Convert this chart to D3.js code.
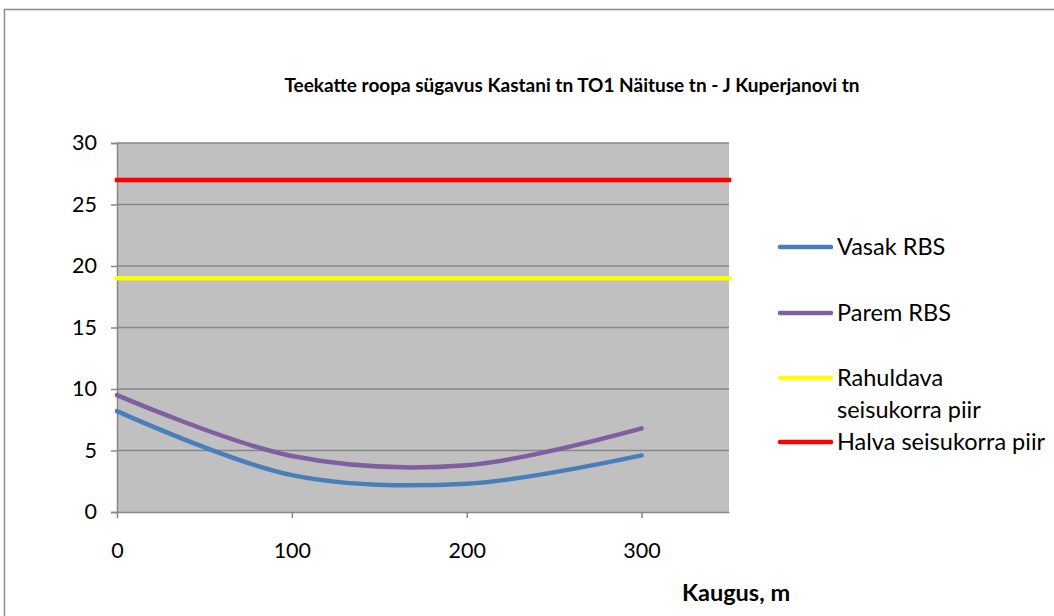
<!DOCTYPE html>
<html><head><meta charset="utf-8">
<script src="https://cdn.jsdelivr.net/npm/d3@7"></script>
<style>body{margin:0;background:#fff;}svg{display:block;font-family:Lato,'Open Sans',sans-serif;}</style>
</head><body>
<svg id="c" width="1054" height="616"></svg>
<script>
const distances = [0, 100, 200, 300];
const vasakRBS = [8.2, 3.0, 2.3, 4.6];
const paremRBS = [9.5, 4.55, 3.8, 6.8];
const limitX = [0, 350];
const rahuldava = [19, 19];
const halva = [27, 27];
const yTicks = [0, 5, 10, 15, 20, 25, 30];
const xTicks = [0, 100, 200, 300];
const seriesNames = ["Vasak RBS", "Parem RBS", "Rahuldava seisukorra piir", "Halva seisukorra piir"];
const title = "Teekatte roopa sügavus Kastani tn TO1 Näituse tn - J Kuperjanovi tn";
const xTitle = "Kaugus, m";

const svg = d3.select("#c");
svg.append("rect").attr("x",4.5).attr("y",9.5).attr("width",1060).attr("height",620)
  .attr("fill","#fff").attr("stroke","#8c8c8c").attr("stroke-width",1.5);

const L=117, R=729, T=143, B=512;
const x = d3.scaleLinear().domain([0,350]).range([L,R]);
const y = d3.scaleLinear().domain([0,30]).range([B,T]);

svg.append("rect").attr("x",L).attr("y",T).attr("width",R-L).attr("height",B-T).attr("fill","#c0c0c0");

svg.append("g").selectAll("line").data(yTicks.filter(d=>d>0)).join("line")
  .attr("x1",L).attr("x2",R).attr("y1",d=>y(d)).attr("y2",d=>y(d))
  .attr("stroke","#878787").attr("stroke-width",1.5);

const ya = svg.append("g").attr("transform",`translate(${L},0)`)
  .call(d3.axisLeft(y).tickValues(yTicks).tickSize(6).tickPadding(14).tickFormat(d3.format("d")));
ya.select(".domain").attr("stroke","#878787").attr("stroke-width",1.5);
ya.selectAll(".tick line").attr("stroke","#878787").attr("stroke-width",1.5);
ya.selectAll("text").attr("font-size",21.5).attr("fill","#000").attr("font-family","Lato");

const xa = svg.append("g").attr("transform",`translate(0,${B})`)
  .call(d3.axisBottom(x).tickValues(xTicks).tickSize(6).tickPadding(25).tickSizeOuter(0));
xa.select(".domain").attr("stroke","#878787").attr("stroke-width",1.5);
xa.selectAll(".tick line").attr("stroke","#878787").attr("stroke-width",1.5);
xa.selectAll("text").attr("font-size",21.5).attr("fill","#000").attr("font-family","Lato");

const colors = ["#4a7ebb","#7f5fa0","#ffff00","#ff0000"];
const line = d3.line().x(d=>x(d[0])).y(d=>y(d[1])).curve(d3.curveCatmullRom.alpha(0.5));
const straight = d3.line().x(d=>x(d[0])).y(d=>y(d[1]));

svg.append("path").attr("d", straight(limitX.map((d,i)=>[d,rahuldava[i]])))
  .attr("fill","none").attr("stroke",colors[2]).attr("stroke-width",4.5).attr("stroke-linecap","square");
svg.append("path").attr("d", straight(limitX.map((d,i)=>[d,halva[i]])))
  .attr("fill","none").attr("stroke",colors[3]).attr("stroke-width",4.5).attr("stroke-linecap","square");
svg.append("path").attr("d", line(distances.map((d,i)=>[d,vasakRBS[i]])))
  .attr("fill","none").attr("stroke",colors[0]).attr("stroke-width",4.5).attr("stroke-linecap","round");
svg.append("path").attr("d", line(distances.map((d,i)=>[d,paremRBS[i]])))
  .attr("fill","none").attr("stroke",colors[1]).attr("stroke-width",4.5).attr("stroke-linecap","round");

svg.append("text").attr("x",572).attr("y",92).attr("text-anchor","middle")
  .attr("font-size",19).attr("font-weight","bold").text(title);
svg.append("text").attr("x",736).attr("y",601).attr("text-anchor","middle")
  .attr("font-size",23.5).attr("font-weight","bold").text(xTitle);

const legY = [247, 313, 378, 442];
const lg = svg.append("g");
seriesNames.forEach((n,i)=>{
  lg.append("line").attr("x1",780).attr("x2",831).attr("y1",legY[i]).attr("y2",legY[i])
    .attr("stroke",colors[i]).attr("stroke-width",4.5).attr("stroke-linecap","round");
  const t = lg.append("text").attr("x",837).attr("y",legY[i]+8).attr("font-size",23.5);
  if(i===2){
    t.append("tspan").attr("x",837).text("Rahuldava");
    t.append("tspan").attr("x",837).attr("dy",32).text("seisukorra piir");
  } else t.text(n);
});
</script>
</body></html>
